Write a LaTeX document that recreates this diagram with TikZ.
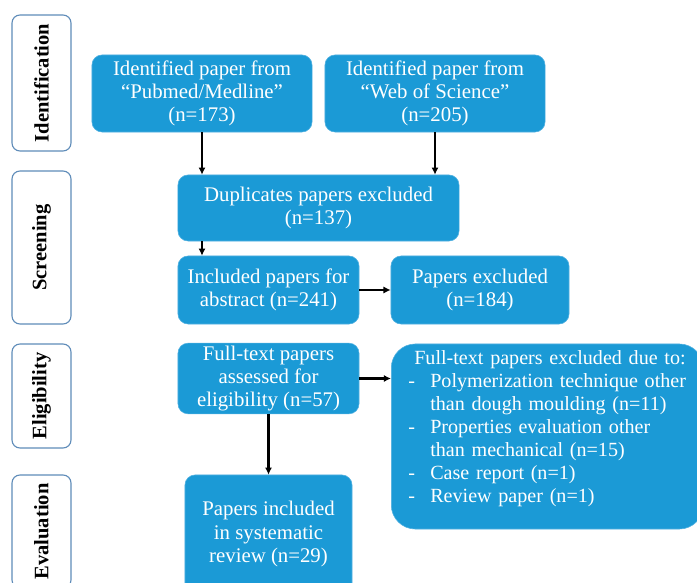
\documentclass[tikz,border=0pt]{standalone}
\usepackage{fontspec}
\setmainfont{Liberation Serif}
\usetikzlibrary{arrows.meta}
\definecolor{boxblue}{RGB}{27,154,214}
\definecolor{boxedge}{RGB}{80,176,224}
\definecolor{stageedge}{RGB}{95,140,185}
\newcommand{\itm}{\makebox[0.85cm][l]{\hspace{0.3cm}-}}
\newcommand{\cnt}{\hspace*{0.85cm}}

\begin{document}
\begin{tikzpicture}[
    x=0.025cm,y=-0.025cm,
    box/.style={draw=boxedge,fill=boxblue,rounded corners=0.25cm,align=center,text=white,inner sep=2pt,font=\fontsize{14.8}{16.4}\selectfont},
    stage/.style={draw=stageedge,line width=0.8pt,fill=white,rounded corners=0.2cm,rotate=90,minimum height=1.475cm,inner sep=2pt,font=\fontsize{14.6}{16.4}\selectfont\bfseries},
    arr/.style={-{Latex[length=1.8mm,width=1.8mm]},line width=1.5pt}
]
\useasboundingbox (0,0) rectangle (697,583);
\clip (0,0) rectangle (697,583);
% stages
\node[stage,minimum width=3.4cm] (ident) at (41.5,83) {Identification};
\node[stage,minimum width=3.825cm] (screen) at (41.5,247.5) {Screening};
\node[stage,minimum width=2.6cm] (elig) at (41.5,396) {Eligibility};
\node[stage,minimum width=2.825cm] (eval) at (41.5,531.5) {Evaluation};
% boxes
\node[box,minimum width=5.5cm,minimum height=1.925cm] (pubmed) at (202,93.5) {Identified paper from\\``Pubmed/Medline''\\(n=173)};
\node[box,minimum width=5.5cm,minimum height=1.925cm] (wos) at (435,93.5) {Identified paper from\\``Web of Science''\\(n=205)};
\node[box,minimum width=7.025cm,minimum height=1.65cm] (dup) at (318.5,208) {Duplicates papers excluded\\(n=137)};
\node[box,minimum width=4.525cm,minimum height=1.7cm] (incl) at (268.5,290) {Included papers for\\abstract (n=241)};
\node[box,minimum width=4.45cm,minimum height=1.7cm] (excl) at (480,290) {Papers excluded\\(n=184)};
\node[box,minimum width=4.525cm,minimum height=1.725cm] (full) at (268.5,378.5) {Full-text papers\\assessed for\\eligibility (n=57)};
\node[box,anchor=west,rounded corners=0.6cm,align=left,text width=7.55cm,inner xsep=0.125cm,minimum height=4.625cm,font=\fontsize{14.3}{16.4}\selectfont] (reasons) at (391,436.5) {\hspace*{0.45cm}Full-text papers excluded due to:\\
\itm Polymerization technique other\\
\cnt than dough moulding (n=11)\\
\itm Properties evaluation other\\
\cnt than mechanical (n=15)\\
\itm Case report (n=1)\\
\itm Review paper (n=1)\\[-2.2pt]\mbox{}};
\node[box,minimum width=4.175cm,minimum height=2.95cm] (final) at (268.5,534) {Papers included\\in systematic\\review (n=29)};
% arrows
\draw[arr] (pubmed.south)--(pubmed.south |- dup.north);
\draw[arr] (wos.south)--(wos.south |- dup.north);
\draw[arr] (pubmed.south |- dup.south)--(pubmed.south |- incl.north);
\draw[arr] (incl)--(excl);
\draw[arr] (full.east)--(reasons.west |- full.east);
\draw[arr] (full)--(final);
\end{tikzpicture}
\end{document}
